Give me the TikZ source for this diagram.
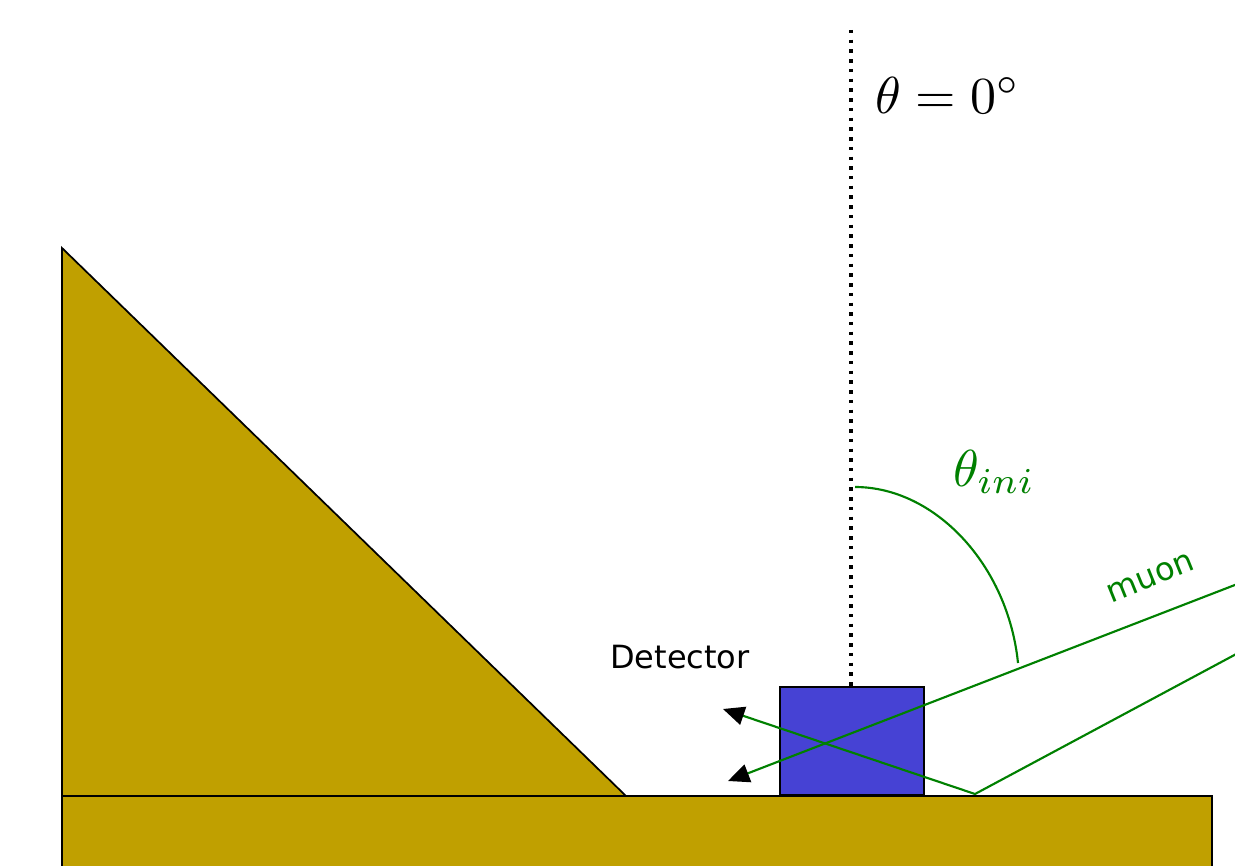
\documentclass[tikz,border=0pt]{standalone}
\usepackage{fontspec}
\setsansfont{DejaVu Sans}
\usetikzlibrary{arrows.meta}
\definecolor{groundcol}{RGB}{192,160,0}
\definecolor{detcol}{RGB}{70,66,212}
\definecolor{muoncol}{RGB}{0,128,0}
\tikzset{every picture/.style={line width=0.75pt}}
\tikzset{
  solid body/.style={draw=black, fill=groundcol, line width=1.3pt},
  muon track/.style={draw=muoncol, line width=1.6pt, -{Triangle[black,length=16pt,width=14pt]}},
  big math/.style={scale=3.9, inner sep=0.2pt},
  plain label/.style={font=\sffamily\fontsize{24}{28}\selectfont, inner sep=0.75pt}
}

\begin{document}
\begin{tikzpicture}[x=0.75pt,y=0.75pt,yscale=-1,xscale=1]
		\useasboundingbox (0,0) rectangle (1235,866);
		\clip (0,0) rectangle (1235,866);
		
		%Ground
		\draw [solid body] (62,796) rectangle (1212,880) ;
		%Triangle
		\draw [solid body] (62,248) -- (62,796) -- (626,796) -- cycle ;
		
		%Detector box
		\node (det) [draw=black, fill=detcol, line width=1.3pt, minimum width=108pt, minimum height=81pt, inner sep=0pt] at (852,741) {};
		
		%Vertical reference
		\coordinate (ztop) at (851,30) ;
		\draw [line width=2.6pt, dash pattern={on 2.6pt off 4.7pt}] (ztop) -- (det.north -| ztop) ;
		
		%Muon tracks
		\coordinate (m1in) at (1240,583) ;
		\coordinate (m1out) at (728,781) ;
		\coordinate (m2in) at (1240,652) ;
		\coordinate (bounce) at (975,794) ;
		\coordinate (m2out) at (723,709) ;
		\draw [muon track] (m1in) -- (m1out) ;
		\draw [muon track] (m2in) -- (bounce) -- (m2out) ;
		
		%Angle
		\coordinate (arcstart) at (855,487) ;
		\coordinate (arcend) at (1018,663) ;
		\draw [draw=muoncol, line width=1.6pt] (arcstart) .. controls (935,487) and (1008,565) .. (arcend) ;
		
		% Text Node
		\node (zenith) [big math, anchor=west] at (872,95) {$\theta = 0^\circ$};
		% Text Node
		\node (thini) [big math, text=muoncol, anchor=west] at (950,472) {$\theta_{ini}$};
		% Text Node
		\node (muon) [plain label, text=muoncol, rotate=22] at (1151,578) {muon};
		% Text Node
		\node (detlabel) [plain label] at (680,657) {Detector};
		
	\end{tikzpicture}
\end{document}
